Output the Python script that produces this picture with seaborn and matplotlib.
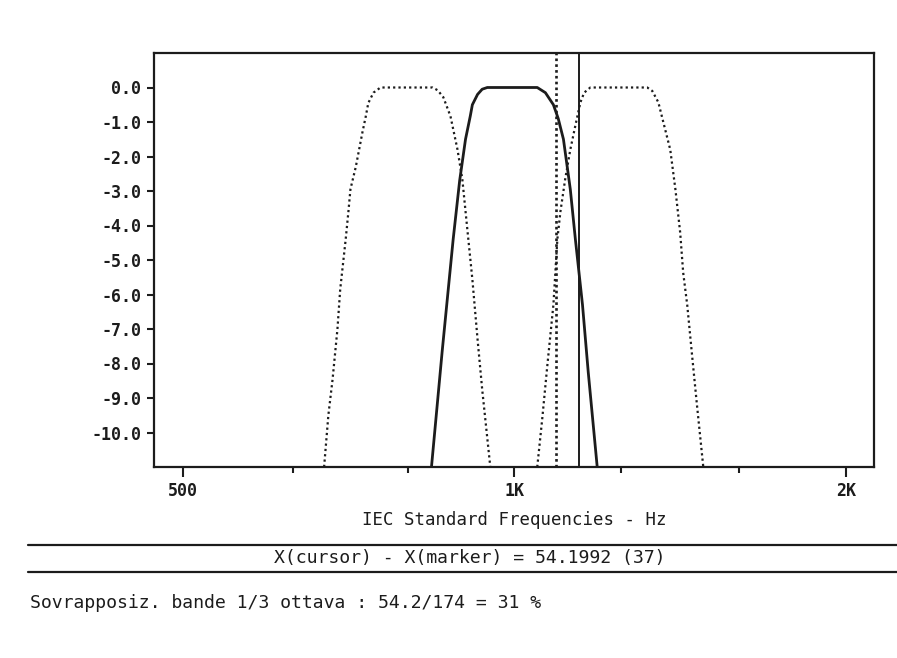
import pandas as pd
import seaborn as sns
import matplotlib.pyplot as plt
from matplotlib.lines import Line2D
from matplotlib.ticker import FixedLocator, NullFormatter

# 1/3 octave filter responses (Hz, dB)
band_800_freq = [672, 678, 684, 691, 695, 703, 707, 710, 718, 728, 733, 737, 745, 756,
                 843, 852, 862, 875, 888, 897, 907, 916, 926, 935, 951]
band_800_db = [-11.0, -9.5, -8.46, -7.0, -5.85, -4.4, -3.6, -2.95, -2.3, -1.3, -0.85, -0.45, -0.15, 0.0,
               0.0, -0.08, -0.28, -0.83, -1.8, -2.66, -4.2, -5.56, -7.3, -8.75, -11.0]

band_1k_freq = [841, 860, 880, 892, 903, 912, 916, 926, 935, 945,
                1049, 1067, 1085, 1096, 1108, 1124, 1136, 1153, 1167, 1189]
band_1k_db = [-11.0, -7.65, -4.4, -2.7, -1.5, -0.83, -0.5, -0.2, -0.05, 0.0,
              0.0, -0.15, -0.5, -0.9, -1.5, -2.95, -4.4, -6.3, -8.26, -11.0]

band_1250_freq = [1049, 1060, 1071, 1085, 1094, 1101, 1112, 1124, 1136, 1148, 1157, 1172,
                  1320, 1334, 1351, 1365, 1385, 1400, 1414, 1423, 1435, 1450, 1465, 1484]
band_1250_db = [-11.0, -9.6, -8.1, -6.3, -4.4, -3.6, -2.66, -1.8, -1.1, -0.43, -0.15, 0.0,
                0.0, -0.1, -0.43, -1.0, -1.8, -2.95, -4.2, -5.37, -6.3, -7.8, -9.25, -11.0]

marker_freq = 1090.8
cursor_freq = 1145.0

major_ticks = [500, 1000, 2000]
major_labels = ["500", "1K", "2K"]
minor_ticks = [630, 800, 1250, 1600]
y_ticks = [0, -1, -2, -3, -4, -5, -6, -7, -8, -9, -10]

ink = "#1c1c1c"

sns.set_style("ticks")
plt.rcParams["font.family"] = ["DejaVu Sans Mono", "DejaVu Sans"]

fig = plt.figure(figsize=(8.97, 6.58), dpi=100)
ax = fig.add_axes([154 / 897, 1 - 467 / 658, 720 / 897, 414 / 658])

dotted = (0, (1, 1.4))
sns.lineplot(x=band_800_freq, y=band_800_db, ax=ax, color=ink, lw=1.6,
             linestyle=dotted, estimator=None, sort=False)
sns.lineplot(x=band_1k_freq, y=band_1k_db, ax=ax, color=ink, lw=2.0,
             estimator=None, sort=False)
sns.lineplot(x=band_1250_freq, y=band_1250_db, ax=ax, color=ink, lw=1.6,
             linestyle=dotted, estimator=None, sort=False)

ax.axvline(marker_freq, color=ink, lw=1.9, linestyle=(0, (1, 1.2)))
ax.axvline(cursor_freq, color=ink, lw=1.4)

ax.set_xscale("log")
ax.set_xlim(471, 2120)
ax.set_ylim(-11, 1.0)

ax.xaxis.set_major_locator(FixedLocator(major_ticks))
ax.set_xticklabels(major_labels)
ax.xaxis.set_minor_locator(FixedLocator(minor_ticks))
ax.xaxis.set_minor_formatter(NullFormatter())
ax.set_yticks(y_ticks)
ax.set_yticklabels([f"{v:.1f}" for v in y_ticks])

ax.tick_params(axis="x", which="major", length=7, width=1.5, direction="out",
               pad=4, labelsize=12, colors=ink)
ax.tick_params(axis="x", which="minor", length=4, width=1.5, direction="out", colors=ink)
ax.tick_params(axis="y", length=5, width=1.5, direction="out", pad=4,
               labelsize=12, colors=ink)
for lab in ax.get_xticklabels() + ax.get_yticklabels():
    lab.set_fontweight("bold")

for side in ["left", "right", "top", "bottom"]:
    ax.spines[side].set_visible(True)
    ax.spines[side].set_linewidth(1.6)
    ax.spines[side].set_color(ink)

fig.text(514 / 897, 1 - 520 / 658, "IEC Standard Frequencies - Hz",
         ha="center", va="center", fontsize=12.5, color=ink)

for yy in [545, 571.5]:
    fig.add_artist(Line2D([28 / 897, 1.0], [1 - yy / 658, 1 - yy / 658],
                          color=ink, lw=1.6))

fig.text(470 / 897, 1 - 558 / 658, "X(cursor) - X(marker) = 54.1992 (37)",
         ha="center", va="center", fontsize=13.1, color=ink)
fig.text(30 / 897, 1 - 603 / 658, "Sovrapposiz. bande 1/3 ottava : 54.2/174 = 31 %",
         ha="left", va="center", fontsize=13.1, color=ink)

fig.savefig("out.png", dpi=100, facecolor="white")
